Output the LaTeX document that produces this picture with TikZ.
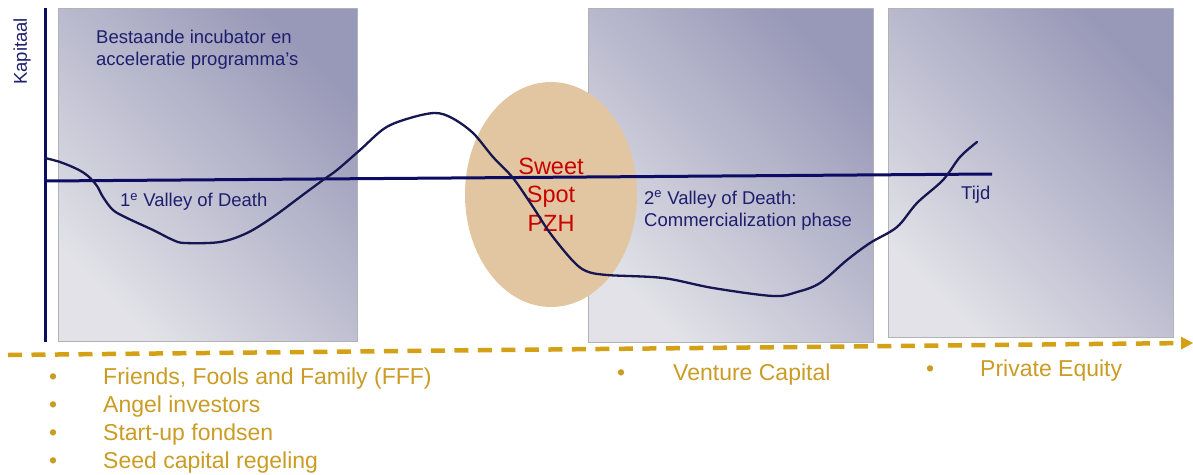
\documentclass[tikz,border=0pt]{standalone}
\usepackage{fontspec}
\setmainfont{Liberation Sans}
\usetikzlibrary{shapes.geometric,arrows.meta}
\definecolor{axiscol}{RGB}{12,12,100}
\definecolor{curvecol}{RGB}{22,22,80}
\definecolor{navytext}{RGB}{30,30,110}
\definecolor{goldline}{RGB}{212,160,22}
\definecolor{goldtext}{RGB}{202,156,36}
\definecolor{redtext}{RGB}{200,0,0}
\definecolor{tan}{RGB}{226,198,161}
\definecolor{boxlight}{RGB}{226,226,232}
\definecolor{boxdark}{RGB}{152,152,184}
\definecolor{boxedge}{RGB}{178,178,182}
\begin{document}
\begin{tikzpicture}[x=1pt,y=-1pt,
  phasebox/.style={top color=boxdark, bottom color=boxlight, shading angle=-45, draw=boxedge, line width=1pt},
  axisline/.style={draw=axiscol, line width=3pt},
  curveline/.style={draw=curvecol, line width=2.3pt, line join=round, line cap=round},
  darklabel/.style={text=navytext, font=\fontsize{18.5}{22}\selectfont, anchor=base west, inner sep=0pt},
  goldlabel/.style={text=goldtext, font=\fontsize{23}{28}\selectfont, anchor=base west, inner sep=0pt},
  sweetspot/.style={ellipse, fill=tan, minimum width=172pt, minimum height=225pt, inner sep=0pt,
     text=redtext, align=center, font=\fontsize{23.5}{28.5}\selectfont},
  timeline/.style={draw=goldline, line width=4.5pt, line cap=butt, dash pattern=on 14pt off 9.5pt},
  timetip/.style={fill=goldline, draw=none}
]
\useasboundingbox (0,0) rectangle (1193,474);

% phase boxes
\shade[phasebox] (58,8) rectangle (357,341);
\shade[phasebox] (588,8) rectangle (873,342);
\shade[phasebox] (888,8) rectangle (1173,337);

% sweet spot
\node[sweetspot] (sweet) at (551,194.5) {Sweet\\Spot\\PZH};

% axes
\coordinate (ytop) at (45,8);
\coordinate (ybot) at (45,342);
\coordinate (xleft) at (45,181);
\coordinate (xright) at (992,174);
\draw[axisline] (ytop) -- (ybot);
\draw[axisline] (xleft) -- (xright);

% capital curve
\draw[curveline] plot[smooth, tension=0.55] coordinates {
 (45,158) (60,162) (77,169) (88,176) (97,186) (103,197) (113,210) (127,218)
 (153,230) (173,240) (185,243) (220,242) (247,233) (273,217) (300,197)
 (323,180) (337,170) (360,150) (385,128) (410,118) (435,113) (452,118)
 (473,133) (493,157) (513,178) (533,207) (550,233) (572,260) (586,271)
 (607,275) (663,278) (713,288) (773,296) (797,292) (820,283) (847,260)
 (870,243) (897,227) (917,203) (943,180) (960,157) (977,142)};

% time arrow: dashed shaft plus solid triangular head
\coordinate (tstart) at (8,355);
\coordinate (tbase) at (1181,343.1);
\coordinate (tend) at (1193,343);
\draw[timeline] (tstart) -- (tbase);
\fill[timetip] (tend) -- ([yshift=-6.5pt]tbase) -- ([yshift=6.5pt]tbase) -- cycle;

% labels
\node[darklabel, rotate=90] (kap) at (27,85) {Kapitaal};
\node[darklabel] (inc1) at (96,43) {Bestaande incubator en};
\node[darklabel] (inc2) at (96,65) {acceleratie programma’s};
\node[darklabel] (vod1) at (120,206.5) {1\textsuperscript{e} Valley of Death};
\node[darklabel] (vod2a) at (644,204) {2\textsuperscript{e} Valley of Death:};
\node[darklabel] (vod2b) at (644,226) {Commercialization phase};
\node[darklabel] (tijd) at (961,199) {Tijd};

% financing lists
\node[goldlabel] (b1) at (49,384) {•};
\node[goldlabel] (l1) at (103,384) {Friends, Fools and Family (FFF)};
\node[goldlabel] (b2) at (49,412) {•};
\node[goldlabel] (l2) at (103,412) {Angel investors};
\node[goldlabel] (b3) at (49,440) {•};
\node[goldlabel] (l3) at (103,440) {Start-up fondsen};
\node[goldlabel] (b4) at (49,468) {•};
\node[goldlabel] (l4) at (103,468) {Seed capital regeling};
\node[goldlabel] (bv) at (617,380) {•};
\node[goldlabel] (vc) at (673,380) {Venture Capital};
\node[goldlabel] (bp) at (926,376) {•};
\node[goldlabel] (pe) at (980,376) {Private Equity};
\end{tikzpicture}
\end{document}
